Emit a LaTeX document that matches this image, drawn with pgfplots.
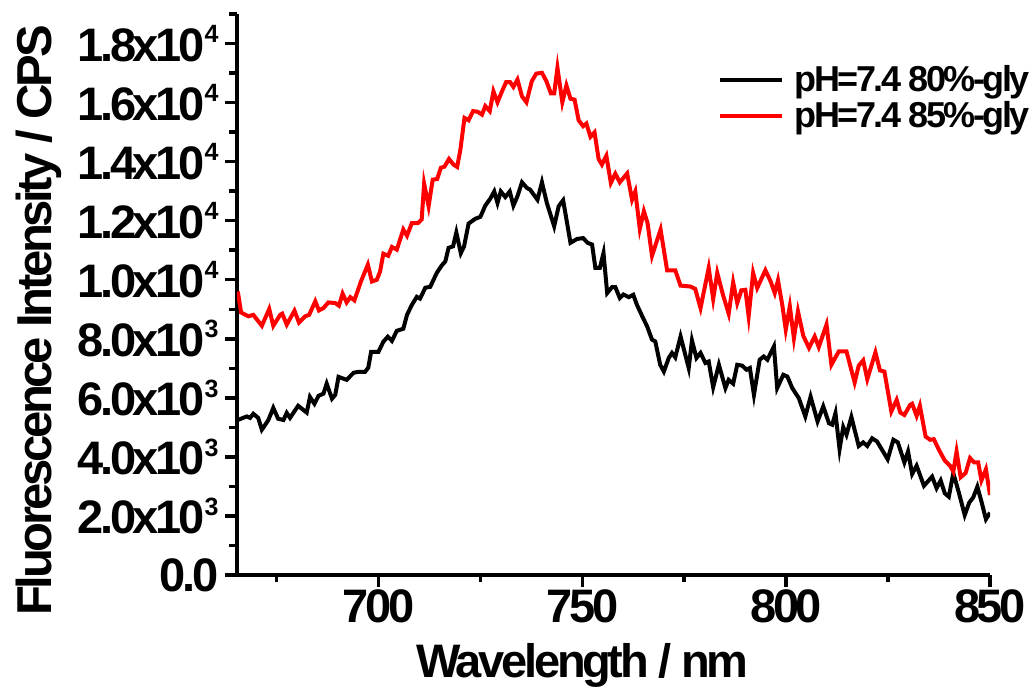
\documentclass[border=0pt]{standalone}
\usepackage{fontspec}
\setmainfont{Liberation Sans}[LetterSpace=-7]
\usepackage{pgfplots}
\pgfplotsset{compat=1.18}
\newcommand\sups[1]{\raisebox{9.3pt}{\fontsize{12.5}{12.5}\selectfont #1}}
\newcommand\tickfont{\fontsize{23.5}{27}\selectfont\bfseries}
\begin{document}
\begin{tikzpicture}
\begin{axis}[
  scale only axis, width=376.5pt, height=280.5pt,
  xmin=665.3, xmax=850, ymin=0, ymax=19000,
  axis lines=left,
  axis line style={-, line width=2pt, black},
  tick align=outside,
  major tick length=6pt, minor tick length=3.75pt,
  tick style={line width=1.75pt, black},
  xtick={700,750,800,850}, xticklabels={700,750,800,850},
  minor xtick={675,725,775,825},
  ytick={0,2000,4000,6000,8000,10000,12000,14000,16000,18000},
  yticklabels={0.0, 2.0x10\sups{3}, 4.0x10\sups{3}, 6.0x10\sups{3}, 8.0x10\sups{3}, 1.0x10\sups{4}, 1.2x10\sups{4}, 1.4x10\sups{4}, 1.6x10\sups{4}, 1.8x10\sups{4}},
  minor ytick={1000,3000,5000,7000,9000,11000,13000,15000,17000,19000},
  /pgf/number format/assume math mode=true,
  tick label style={font=\tickfont},
  yticklabel style={inner sep=1pt, xshift=-2pt},
  xticklabel style={inner sep=1pt},
  xlabel={Wavelength / nm}, ylabel={Fluorescence Intensity / CPS},
  label style={font=\fontsize{24.5}{28}\selectfont\bfseries},
  xlabel style={at={(axis description cs:0.459,-0.1836)}, anchor=base, font=\fontsize{23.5}{28}\selectfont\bfseries},
  ylabel style={at={(axis description cs:-0.2457,0.4537)}, anchor=base},
  legend cell align=left,
  legend style={draw=none, fill=none, at={(axis description cs:0.630,0.92)}, anchor=north west,
    font=\fontsize{18}{21}\selectfont\bfseries, row sep=1.5pt, column sep=4.5pt, nodes={inner sep=1pt}},
  legend image code/.code={\draw[#1] (0pt,0pt) -- (31pt,0pt);},
]
\addplot[black, line width=2pt] coordinates {
(665.5,5250) (667.7,5370) (668.5,5320) (669.3,5460) (670.5,5320) (671.4,4920) (673.0,5250) (674.2,5660) (675.4,5290) (676.7,5250)
(677.5,5490) (678.3,5320) (680.3,5730) (682.4,5500) (683.2,6030) (684.3,5800) (685.3,6070) (686.5,6140) (687.3,6480) (688.6,5970)
(689.4,6100) (690.2,6710) (692.2,6610) (693.9,6850) (695.1,6880) (696.7,6880) (697.5,7020) (698.2,7560) (700.0,7560) (701.2,7900)
(702.3,8070) (703.3,7930) (704.5,8270) (706.1,8340) (707.0,8810) (708.2,9150) (709.4,9420) (710.2,9360) (711.5,9730) (712.7,9760)
(714.3,10230) (715.5,10480) (716.4,10620) (717.2,11080) (718.3,11130) (719.1,11600) (720.2,10900) (721.0,11130) (722.1,11900) (723.7,12060)
(725.0,12130) (726.2,12510) (727.4,12740) (728.4,12990) (729.2,12600) (730.0,12990) (731.1,12800) (732.2,12990) (733.1,12510) (734.1,12830)
(735.2,13300) (736.4,13110) (737.2,13050) (739.0,12710) (740.1,13300) (741.3,12600) (743.1,11810) (744.2,12490) (745.3,12690) (747.1,11250)
(748.7,11380) (750.2,11410) (751.3,11250) (752.4,11190) (753.2,10400) (754.3,10400) (755.2,10900) (756.1,9550) (757.3,9750) (758.1,9750)
(759.2,9380) (760.1,9500) (761.4,9410) (762.5,9490) (763.4,9150) (764.7,8760) (765.9,8420) (767.1,7970) (767.9,7910) (769.1,7120)
(770.0,6890) (771.2,7350) (772.0,7520) (772.8,7370) (774.1,8080) (776.1,7010) (776.9,7940) (778.0,7350) (779.0,7520) (780.2,7180)
(781.0,7230) (782.1,6360) (783.5,7120) (785.1,6330) (785.9,6610) (787.0,6480) (788.0,7120) (789.2,7090) (790.3,6950) (791.1,7010)
(792.1,6100) (793.5,7290) (794.5,7400) (795.4,7290) (797.0,7740) (797.8,6330) (799.3,6780) (800.3,6720) (801.5,6330) (803.1,5990)
(804.7,5370) (806.0,6040) (807.7,5200) (809.1,5710) (810.5,5140) (811.3,5090) (812.1,5480) (813.1,4260) (814.0,5010) (814.8,4750)
(816.0,5350) (817.8,4370) (818.9,4490) (819.9,4370) (821.1,4630) (822.3,4520) (824.9,3920) (826.3,4580) (827.4,4490) (829.0,3810)
(829.9,4180) (830.9,3420) (832.0,3700) (833.8,3020) (835.8,3330) (836.9,2940) (837.9,3200) (838.9,2770) (839.9,2650) (841.0,3450)
(842.4,2770) (843.8,2030) (844.9,2450) (845.9,2630) (846.9,2990) (847.9,2490) (849.0,1890) (850.0,2110)
};
\addlegendentry{pH=7.4 80\%-gly}
\addplot[red, line width=2pt] coordinates {
(665.5,9600) (666.3,8890) (668.1,8760) (669.3,8810) (671.4,8440) (673.2,9010) (674.2,8440) (675.9,8810) (676.4,8850) (677.5,8480)
(679.4,8950) (680.5,8550) (682.0,8760) (683.0,8810) (684.5,9270) (685.4,8960) (686.5,9040) (687.7,9230) (689.4,9210) (690.3,9120)
(691.2,9530) (692.2,9230) (693.1,9410) (694.1,9300) (695.7,9940) (697.4,10510) (698.4,9940) (699.6,10000) (700.4,10280) (701.2,10880)
(702.4,10810) (703.3,11110) (704.5,11020) (706.1,11700) (707.0,11490) (708.2,11920) (709.7,11920) (710.6,12040) (711.2,13250) (712.3,12490)
(713.3,13390) (714.4,13410) (715.3,13790) (716.2,13830) (717.3,14090) (718.4,13900) (719.3,13820) (720.1,14410) (721.1,15480) (722.1,15400)
(723.2,15710) (724.3,15690) (725.4,15590) (726.2,15880) (727.3,15710) (728.2,16380) (729.2,16010) (730.3,16380) (731.3,16690) (732.3,16690)
(733.1,16530) (734.1,16780) (735.2,16210) (736.3,16010) (737.6,16720) (738.7,16980) (740.1,17010) (741.2,16720) (742.3,16310) (743.1,16310)
(743.9,17180) (745.1,16010) (746.1,16580) (747.1,16130) (748.1,16100) (749.1,15400) (750.2,15200) (751.0,15290) (752.0,14840) (753.0,14990)
(754.0,14090) (754.8,13900) (755.9,14200) (757.0,13280) (758.1,13590) (759.2,13300) (761.0,13600) (762.2,12710) (763.0,12990) (764.1,11720)
(765.1,12320) (766.0,11920) (767.1,10810) (769.2,11700) (770.8,10320) (772.8,10320) (774.1,9800) (776.5,9770) (777.7,9690) (779.0,9040)
(781.0,10400) (782.1,9350) (783.1,10230) (784.5,9490) (785.9,8850) (787.0,9910) (788.0,9210) (789.0,9640) (790.0,9660) (790.8,8760)
(791.9,10230) (792.9,9720) (794.9,10320) (796.2,9940) (797.2,9550) (798.0,9980) (799.1,9100) (799.9,8310) (800.9,9100) (801.9,8020)
(802.9,8930) (804.2,8100) (805.6,7690) (807.0,8080) (808.0,7720) (809.9,8480) (811.1,7120) (812.9,7570) (814.8,7570) (816.8,6520)
(817.8,7090) (818.9,7270) (819.9,6630) (821.9,7540) (823.0,6930) (824.1,6890) (825.8,5540) (827.1,5930) (828.0,5500) (829.0,5420)
(830.4,5760) (830.9,5800) (832.0,5390) (832.8,5730) (834.2,4690) (835.3,4580) (836.2,4600) (837.7,4180) (838.9,3880) (840.2,3700)
(841.0,3500) (841.8,4180) (842.8,3310) (844.0,3450) (845.1,3960) (846.1,3810) (847.1,3810) (847.9,3200) (849.0,3580) (850.0,2710)
};
\addlegendentry{pH=7.4 85\%-gly}
\end{axis}
\pgfresetboundingbox
\path ([shift={(-118.5pt,-59pt)}]current axis.south west) rectangle ([shift={(22pt,7pt)}]current axis.north east);
\end{tikzpicture}
\end{document}
